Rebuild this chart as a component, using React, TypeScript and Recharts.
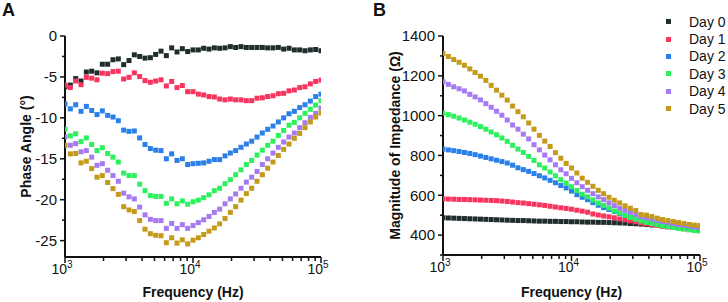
import React from 'react'
import { ScatterChart, Scatter, XAxis, YAxis, Legend, Label } from 'recharts'

// ── Data ──────────────────────────────────────────────────────────────────────

// sweep frequencies (Hz), 24 points per decade
const FREQ = [
  1000, 1101, 1212, 1334, 1468, 1616, 1778, 1957, 2154, 2371, 2610, 2873,
  3162, 3481, 3831, 4217, 4642, 5109, 5623, 6190, 6813, 7499, 8254, 9085,
  10000, 11007, 12115, 13335, 14678, 16156, 17783, 19573, 21544, 23714, 26102, 28730,
  31623, 34807, 38312, 42170, 46416, 51090, 56234, 61897, 68129, 74989, 82540, 90852,
  100000,
]

const DAYS   = ['Day 0', 'Day 1', 'Day 2', 'Day 3', 'Day 4', 'Day 5']
const COLORS = ['#1f2d2d', '#f8345f', '#2a7fea', '#2ef05e', '#a57af2', '#c49a1a']

// Panel A — phase angle (°)
const PHASE_DAY0 = [
  -6.2, -6.0, -5.2, -5.5, -4.4, -4.3, -4.5, -3.45, -3.45, -2.9, -2.8, -3.5,
  -3.0, -2.3, -2.5, -2.7, -2.65, -2.25, -1.85, -2.4, -1.45, -1.95, -1.55, -1.9,
  -1.7, -1.7, -1.5, -1.6, -1.45, -1.5, -1.45, -1.3, -1.4, -1.3, -1.4, -1.4,
  -1.4, -1.4, -1.45, -1.45, -1.4, -1.6, -1.5, -1.7, -1.7, -1.8, -1.7, -1.65,
  -1.8,
]
const PHASE_DAY1 = [
  -6.0, -6.3, -5.5, -5.95, -5.05, -5.15, -5.35, -4.55, -4.6, -4.35, -4.3, -5.25,
  -5.05, -4.5, -4.95, -5.45, -5.65, -5.5, -5.35, -6.1, -5.55, -6.3, -6.05, -6.8,
  -6.8, -7.1, -7.2, -7.4, -7.45, -7.7, -7.8, -7.7, -7.8, -7.8, -7.9, -7.9,
  -7.6, -7.55, -7.4, -7.3, -7.05, -7.0, -6.7, -6.6, -6.3, -6.2, -5.85, -5.55,
  -5.4,
]
const PHASE_DAY2 = [
  -8.3, -8.9, -8.4, -9.2, -8.6, -9.1, -9.6, -9.15, -9.7, -9.9, -10.35, -11.5,
  -11.65, -11.6, -12.45, -13.25, -13.75, -13.95, -14.0, -15.0, -14.4, -15.2, -15.0, -15.7,
  -15.6, -15.55, -15.5, -15.3, -15.1, -15.1, -14.65, -14.3, -14.0, -13.6, -13.2, -12.85,
  -12.35, -11.85, -11.4, -11.0, -10.5, -10.0, -9.5, -9.2, -8.75, -8.4, -7.95, -7.4,
  -7.1,
]
const PHASE_DAY3 = [
  -11.4, -12.2, -11.95, -12.9, -12.45, -13.25, -14.0, -13.65, -14.35, -14.8, -15.4, -16.75,
  -17.05, -17.05, -18.1, -18.9, -19.5, -19.6, -19.6, -20.45, -19.9, -20.5, -20.15, -20.55,
  -20.25, -20.05, -19.75, -19.4, -18.9, -18.6, -18.05, -17.55, -16.95, -16.35, -15.7, -15.2,
  -14.55, -13.95, -13.35, -12.85, -12.15, -11.55, -10.9, -10.55, -10.0, -9.45, -8.95, -8.45,
  -7.9,
]
const PHASE_DAY4 = [
  -12.3, -13.35, -13.15, -14.15, -14.0, -14.8, -15.8, -15.6, -16.4, -17.05, -17.75, -19.2,
  -19.65, -19.9, -20.9, -21.85, -22.4, -22.55, -22.55, -23.5, -22.9, -23.5, -23.05, -23.5,
  -23.15, -22.8, -22.45, -22.05, -21.55, -21.15, -20.5, -19.9, -19.3, -18.6, -17.85, -17.25,
  -16.55, -15.7, -15.0, -14.3, -13.6, -12.95, -12.35, -11.85, -11.2, -10.6, -9.95, -9.45,
  -8.8,
]
const PHASE_DAY5 = [
  -13.35, -14.4, -14.35, -15.5, -15.3, -16.2, -17.25, -17.05, -17.9, -18.65, -19.35, -20.85,
  -21.25, -21.45, -22.55, -23.6, -24.15, -24.35, -24.4, -25.25, -24.65, -25.3, -24.9, -25.4,
  -24.95, -24.65, -24.25, -23.85, -23.45, -22.95, -22.3, -21.55, -20.85, -20.05, -19.25, -18.6,
  -17.75, -16.95, -16.15, -15.4, -14.6, -13.85, -13.2, -12.5, -11.9, -11.2, -10.5, -9.9,
  -9.4,
]

// Panel B — impedance magnitude (Ω)
const MAG_DAY0 = [
  487, 486, 485, 484, 483, 482, 481, 480, 479, 478, 477, 476,
  475, 474, 473, 473, 472, 471, 470, 470, 469, 469, 468, 468,
  467, 467, 466, 465, 465, 464, 464, 463, 462, 461, 460, 458,
  457, 455, 453, 451, 449, 446, 444, 441, 438, 436, 433, 430,
  428,
]
const MAG_DAY1 = [
  582, 581, 580, 579, 579, 578, 577, 576, 575, 574, 573, 571,
  569, 566, 563, 561, 558, 555, 552, 549, 545, 541, 537, 534,
  530, 525, 520, 515, 506, 501, 496, 492, 487, 481, 477, 472,
  467, 461, 457, 452, 448, 445, 441, 438, 435, 432, 429, 426,
  423,
]
const MAG_DAY2 = [
  832, 828, 824, 820, 815, 810, 804, 797, 790, 783, 776, 769,
  762, 751, 738, 729, 720, 709, 698, 687, 675, 663, 649, 637,
  621, 603, 590, 578, 563, 550, 538, 528, 518, 509, 500, 492,
  485, 478, 471, 465, 459, 453, 448, 443, 439, 435, 431, 428,
  425,
]
const MAG_DAY3 = [
  1012, 1005, 997, 988, 978, 967, 957, 945, 932, 918, 904, 888,
  871, 851, 832, 815, 795, 775, 753, 737, 717, 698, 678, 661,
  643, 624, 605, 592, 577, 561, 549, 536, 521, 511, 500, 489,
  479, 471, 464, 458, 452, 447, 442, 438, 434, 430, 426, 423,
  420,
]
const MAG_DAY4 = [
  1170, 1157, 1145, 1135, 1124, 1107, 1094, 1079, 1060, 1042, 1022, 1002,
  978, 953, 932, 907, 883, 854, 828, 802, 778, 753, 728, 708,
  685, 663, 643, 625, 608, 592, 578, 562, 548, 535, 525, 515,
  503, 493, 487, 481, 475, 468, 463, 458, 453, 449, 445, 441,
  438,
]
const MAG_DAY5 = [
  1312, 1297, 1282, 1268, 1253, 1235, 1217, 1198, 1177, 1152, 1128, 1103,
  1078, 1048, 1020, 994, 963, 932, 901, 872, 845, 814, 786, 760,
  737, 712, 686, 665, 645, 625, 608, 590, 575, 562, 547, 535,
  523, 503, 500, 493, 485, 478, 473, 468, 463, 458, 453, 450,
  448,
]

const PHASE = [PHASE_DAY0, PHASE_DAY1, PHASE_DAY2, PHASE_DAY3, PHASE_DAY4, PHASE_DAY5]
const MAG   = [MAG_DAY0, MAG_DAY1, MAG_DAY2, MAG_DAY3, MAG_DAY4, MAG_DAY5]

const FREQ_TICKS  = [
  1000, 2000, 3000, 4000, 5000, 6000, 7000, 8000, 9000,
  10000, 20000, 30000, 40000, 50000, 60000, 70000, 80000, 90000, 100000,
]
const PHASE_TICKS = [0, -2.5, -5, -7.5, -10, -12.5, -15, -17.5, -20, -22.5, -25]
const MAG_TICKS   = [300, 400, 500, 600, 700, 800, 900, 1000, 1100, 1200, 1300, 1400]

// ── Styling ───────────────────────────────────────────────────────────────────

const FONT = "'Liberation Sans', Arial, sans-serif"
const INK  = '#111111'

const toPoints = (vals: number[]) => FREQ.map((f, i) => ({ f, v: vals[i] }))

const squareShape = (color: string) => (props: any) => (
  <rect x={props.cx - 2.5} y={props.cy - 2.5} width={5} height={5} fill={color} />
)

// ── Ticks & titles ────────────────────────────────────────────────────────────

function FreqTick({ x, y, payload }: any) {
  const exp   = Math.log10(payload.value)
  const major = Math.abs(exp - Math.round(exp)) < 1e-6
  return (
    <g>
      <line x1={x} x2={x} y1={y} y2={y + (major ? 6 : 4)} stroke={INK} strokeWidth={1.5} />
      {major && (
        <text x={x - 3} y={y + 17} textAnchor="middle" fontSize={14} fontFamily={FONT} fill={INK}>
          10<tspan dy={-6} fontSize={10}>{Math.round(exp)}</tspan>
        </text>
      )}
    </g>
  )
}

const makeValueTick = (labelStep: number) => ({ x, y, payload }: any) => {
  const major = payload.value % labelStep === 0
  return (
    <g>
      <line x1={x} x2={x - (major ? 5 : 3)} y1={y} y2={y} stroke={INK} strokeWidth={1.5} />
      {major && (
        <text x={x - 8} y={y} dy="0.36em" textAnchor="end" fontSize={15} fontFamily={FONT} fill={INK}>
          {String(payload.value)}
        </text>
      )}
    </g>
  )
}

function XTitle({ viewBox, text, dy }: any) {
  return (
    <text
      x={viewBox.x + viewBox.width / 2}
      y={viewBox.y + dy}
      textAnchor="middle"
      fontSize={14}
      fontWeight="bold"
      fontFamily={FONT}
      fill={INK}
    >
      {text}
    </text>
  )
}

function YTitle({ viewBox, text, cx }: any) {
  const cy = viewBox.y + viewBox.height / 2
  return (
    <text
      x={cx}
      y={cy}
      transform={`rotate(-90 ${cx} ${cy})`}
      textAnchor="middle"
      dominantBaseline="central"
      fontSize={14}
      fontWeight="bold"
      fontFamily={FONT}
      fill={INK}
    >
      {text}
    </text>
  )
}

function DayLegend() {
  return (
    <div style={{ fontFamily: FONT, fontSize: 14, color: INK }}>
      {DAYS.map((d, i) => (
        <div key={d} style={{ display: 'flex', alignItems: 'center', height: 17.4 }}>
          <span style={{ width: 5, height: 5, background: COLORS[i], marginRight: 18 }} />
          <span>{d}</span>
        </div>
      ))}
    </div>
  )
}

const panelLetter = (left: number): React.CSSProperties => ({
  position:   'absolute',
  left,
  top:        0,
  fontFamily: FONT,
  fontWeight: 'bold',
  fontSize:   18,
  color:      INK,
})

// ── App ───────────────────────────────────────────────────────────────────────

export default function App() {
  const axisLine = { stroke: INK, strokeWidth: 2 }

  return (
    <div style={{ position: 'absolute', left: 0, top: 0, width: 728, height: 302, background: '#fff' }}>
      <div style={panelLetter(2)}>A</div>
      <div style={panelLetter(373)}>B</div>

      {/* Panel A: phase angle */}
      <div style={{ position: 'absolute', left: 0, top: 0 }}>
        <ScatterChart width={360} height={302} margin={{ top: 36, right: 39, bottom: 0, left: 0 }}>
          <XAxis
            dataKey="f"
            type="number"
            scale="log"
            domain={[1000, 100000]}
            ticks={FREQ_TICKS}
            interval={0}
            height={45}
            tickSize={0}
            tickMargin={0}
            tickLine={false}
            axisLine={axisLine}
            tick={<FreqTick />}
            allowDataOverflow
          >
            <Label content={<XTitle text="Frequency (Hz)" dy={40} />} />
          </XAxis>
          <YAxis
            dataKey="v"
            type="number"
            domain={[-27, 0]}
            ticks={PHASE_TICKS}
            interval={0}
            width={65}
            tickSize={0}
            tickMargin={0}
            tickLine={false}
            axisLine={axisLine}
            tick={makeValueTick(5)}
            allowDataOverflow
          >
            <Label content={<YTitle text="Phase Angle (°)" cx={26} />} />
          </YAxis>
          {PHASE.map((vals, i) => (
            <Scatter
              key={DAYS[i]}
              name={DAYS[i]}
              data={toPoints(vals)}
              fill={COLORS[i]}
              shape={squareShape(COLORS[i])}
              isAnimationActive={false}
            />
          ))}
        </ScatterChart>
      </div>

      {/* Panel B: impedance magnitude */}
      <div style={{ position: 'absolute', left: 370, top: 0 }}>
        <ScatterChart width={358} height={302} margin={{ top: 36, right: 28, bottom: 0, left: 0 }}>
          <XAxis
            dataKey="f"
            type="number"
            scale="log"
            domain={[1000, 100000]}
            ticks={FREQ_TICKS}
            interval={0}
            height={47}
            tickSize={0}
            tickMargin={0}
            tickLine={false}
            axisLine={axisLine}
            tick={<FreqTick />}
            allowDataOverflow
          >
            <Label content={<XTitle text="Frequency (Hz)" dy={42} />} />
          </XAxis>
          <YAxis
            dataKey="v"
            type="number"
            domain={[300, 1400]}
            ticks={MAG_TICKS}
            interval={0}
            width={73}
            tickSize={0}
            tickMargin={0}
            tickLine={false}
            axisLine={axisLine}
            tick={makeValueTick(200)}
            allowDataOverflow
          >
            <Label content={<YTitle text="Magnitude of Impedance (Ω)" cx={25} />} />
          </YAxis>
          <Legend
            layout="vertical"
            align="center"
            verticalAlign="middle"
            content={<DayLegend />}
            wrapperStyle={{ left: 296, top: 13, width: 62 }}
          />
          {MAG.map((vals, i) => (
            <Scatter
              key={DAYS[i]}
              name={DAYS[i]}
              data={toPoints(vals)}
              fill={COLORS[i]}
              shape={squareShape(COLORS[i])}
              isAnimationActive={false}
            />
          ))}
        </ScatterChart>
      </div>
    </div>
  )
}
